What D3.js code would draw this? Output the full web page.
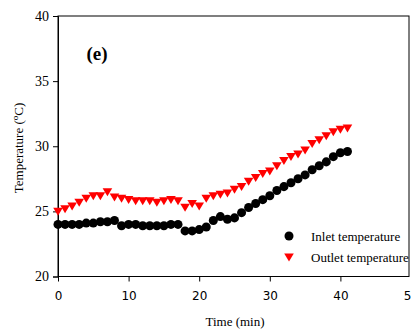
<!DOCTYPE html>
<html>
<head>
<meta charset="utf-8">
<script src="https://cdn.jsdelivr.net/npm/d3@7"></script>
<style>
  html, body { margin: 0; padding: 0; background: #fff; overflow: hidden; }
  svg { display: block; }
</style>
</head>
<body>
<svg id="chart" width="411" height="331"></svg>
<script>
// Time in minutes, one reading per minute
const times = d3.range(0, 42);
// Inlet temperature (°C)
const inlet = [24.0, 24.0, 24.0, 24.0, 24.1, 24.1, 24.2, 24.2, 24.3, 23.9,
               24.0, 24.0, 23.9, 23.9, 23.9, 23.9, 24.0, 24.0, 23.5, 23.5,
               23.6, 23.8, 24.3, 24.6, 24.4, 24.5, 24.9, 25.3, 25.6, 25.9,
               26.2, 26.6, 26.9, 27.2, 27.5, 27.8, 28.2, 28.5, 28.8, 29.2,
               29.5, 29.6];
// Outlet temperature (°C)
const outlet = [25.0, 25.2, 25.4, 25.7, 26.0, 26.2, 26.2, 26.5, 26.1, 26.0,
                25.9, 25.8, 25.8, 25.8, 25.7, 25.8, 25.9, 25.8, 25.3, 25.6,
                25.4, 26.0, 26.2, 26.3, 26.4, 26.7, 26.9, 27.3, 27.6, 27.9,
                28.1, 28.5, 28.9, 29.2, 29.4, 29.7, 30.2, 30.5, 30.8, 31.1,
                31.3, 31.4];
const xTicks = [0, 10, 20, 30, 40, 50];
const yTicks = [20, 25, 30, 35, 40];
const seriesNames = ["Inlet temperature", "Outlet temperature"];
const panelLabel = "(e)";

const SERIF = "Liberation Serif";
const SANS = "DejaVu Sans";

const svg = d3.select("#chart");
const plotLeft = 58, plotRight = 409, plotTop = 16, plotBottom = 276.5;

const x = d3.scaleLinear().domain([0, 50]).range([plotLeft, 411]);
const y = d3.scaleLinear().domain([20, 40]).range([plotBottom, plotTop]);

// Frame
svg.append("rect")
  .attr("x", plotLeft).attr("y", plotTop)
  .attr("width", plotRight - plotLeft).attr("height", plotBottom - plotTop)
  .attr("fill", "none").attr("stroke", "#000").attr("stroke-width", 1);

// Y axis
const yAxis = svg.append("g")
  .attr("transform", `translate(${plotLeft},0)`)
  .call(d3.axisLeft(y).tickValues(yTicks).tickSize(5).tickPadding(4));
yAxis.selectAll("text").attr("font-family", SERIF).attr("font-size", 14).attr("fill", "#000");
yAxis.select(".domain").attr("stroke", "#000");
yAxis.selectAll("line").attr("stroke", "#000");

// X axis
const xAxis = svg.append("g")
  .attr("transform", `translate(0,${plotBottom})`)
  .call(d3.axisBottom(x).tickValues(xTicks).tickSize(5).tickPadding(10));
xAxis.selectAll("text").attr("font-family", SANS).attr("font-size", 12).attr("fill", "#000");
xAxis.select(".domain").remove();
xAxis.selectAll("line").attr("stroke", "#000");

// Axis titles
svg.append("text")
  .attr("font-family", SERIF).attr("font-size", 13)
  .attr("x", 235).attr("y", 326).attr("text-anchor", "middle")
  .text("Time (min)");

const yt = svg.append("text")
  .attr("font-family", SERIF).attr("font-size", 13)
  .attr("transform", "translate(23,148) rotate(-90)")
  .attr("text-anchor", "middle");
yt.append("tspan").text("Temperature (");
yt.append("tspan").attr("font-size", 9).attr("dy", -5).text("o");
yt.append("tspan").attr("dy", 5).text("C)");

// Panel label
svg.append("text")
  .attr("font-family", SERIF).attr("font-size", 19).attr("font-weight", "bold")
  .attr("x", 97).attr("y", 60).attr("text-anchor", "middle")
  .text(panelLabel);

// Symbols
const circleSym = d3.symbol().type(d3.symbolCircle).size(64);
const triDown = "M-4.8,-3.6L4.8,-3.6L0,4.4Z";

// Outlet series (red down-triangles)
svg.append("g").selectAll("path")
  .data(times)
  .join("path")
  .attr("transform", (t, i) => `translate(${x(t)},${y(outlet[i])})`)
  .attr("d", triDown)
  .attr("fill", "#ff0000");

// Inlet series (black circles)
svg.append("g").selectAll("path")
  .data(times)
  .join("path")
  .attr("transform", (t, i) => `translate(${x(t)},${y(inlet[i])})`)
  .attr("d", circleSym)
  .attr("fill", "#000");

// Legend
const legend = svg.append("g");
legend.append("path").attr("transform", "translate(289,236)")
  .attr("d", circleSym).attr("fill", "#000");
legend.append("path").attr("transform", "translate(289,257)")
  .attr("d", triDown).attr("fill", "#ff0000");
legend.append("text")
  .attr("font-family", SERIF).attr("font-size", 13)
  .attr("x", 311).attr("y", 241).text(seriesNames[0]);
legend.append("text")
  .attr("font-family", SERIF).attr("font-size", 13)
  .attr("x", 311).attr("y", 262).text(seriesNames[1]);
</script>
</body>
</html>
